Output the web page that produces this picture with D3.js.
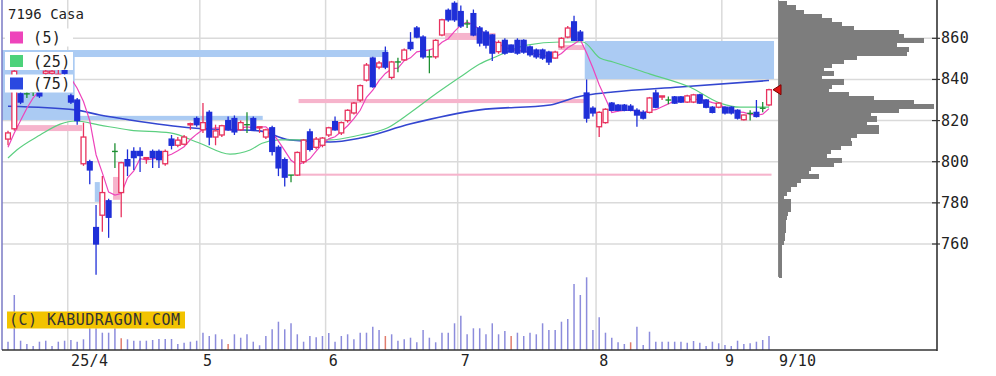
<!DOCTYPE html>
<html><head><meta charset="utf-8">
<script src="https://cdn.jsdelivr.net/npm/d3@7"></script>
<style>body{margin:0;background:#fff}svg{display:block}</style>
</head><body><svg id="c" width="996" height="376"></svg>
<script>
const title = "7196 Casa";
const opens = [811,816,833,833,834,834,843,843,842,845,
832,830,799,800,768,774,781,805,785,801,
805,805,801.7,805,805,799,811,808,808.5,818,
821,815.5,824,812,813,820,821,815.5,818,821,
816.5,812,816.5,807,801,793.5,793.5,800,814.5,807,
808,813,819.5,814,820,823.7,830,839.7,850.4,846,
853,841,848.5,849.5,858,865,860.6,851,851,861.6,
873.6,877,873,867,872,865,863,861.6,853.5,859,
856.7,859,859,855.8,854.3,854.3,853.3,850.4,855.8,860.6,
868,863,833.4,826,817,819,828.5,827.5,827.5,827,
825,824,824,833.4,831.5,830,831.5,831.5,829,829,
832.5,830,826.5,826.5,826.5,826.5,825,820.4,823.5,824,
826,827.6];
const highs = [815,846,834,835,836,835,845,845,845,846,
833,831,819,801,779,793,782,809,800,806,
807,807,802,806,806,806,813,812,813,819,
822,828.5,825,818,818,822,822.5,820,824,822,
817,816,817.5,808,802,793.5,805,811,816,812,
812,817,822,819.5,825.5,829,837.5,848,851,849,
856,849,850.5,855,863,866,861.5,854.5,859.5,869.5,
874.5,878,876,869,874,866,864,862,859,860,
857,860,859.5,856.5,855,855,854,854,860.5,866,
871,864,840,827,824.5,826,829,828,828,828,
826,825,831.5,835,832,831.7,832,832,832.5,833,
833,830.5,827,829,827,827,825.5,823,825,830,
829,835.5];
const lows = [808,815,828,831,832,831,842,842,842,842,
828,818,798,789,745,766,763,797,773,793,
796,795,799,797,797,798,806,807,808,815.5,
817,814,808,808,812,815,813,815,814,815,
814,811,803,793,788,790,793,799,805,806,
807,812,815,813,819,823,829,839,836,845,
845,840,843.5,849,854,860,850,843,850,861,
868,868,865,865,861,856,855,849,852.5,852,
853,852,852.5,851,850,849.5,847,850,855,860,
858.7,858.7,819,822,812,818.5,824.5,824.5,824.5,824.5,
817,820.5,823.5,826,830,828,828,828.5,828.5,828.5,
828,826,823.5,826,823,823,820.5,820,820,821.5,
824,827];
const closes = [814,844,829,833,834,832,844,844,842.5,843,
829,820,812,796,760,785,773,805,799.5,798,
802,803,802,802,801,805,808,810.5,812,818.5,
818,819,812,815,817.5,815.5,814.5,819,818,815.5,
817,815.5,805,797,792.5,793.5,804.5,810.5,806,811,
811.5,816.5,815.5,819,825,828.5,837,847,836.5,848,
846,848.5,848.5,854.3,855,860.6,851,851,859,869,
869,869,866,867,861.6,857.7,856.7,852.8,858,852.8,
853.3,852.8,853.3,852,851,850.4,848.5,853.3,860,865,
859,859,821.2,823.7,824,825.5,825,825,825,825,
822.7,821.2,831,826.5,832,830,828.5,829,832,832.5,
828.5,826.5,824,828.5,823.7,823.7,821.2,822.7,823.5,822,
826,835];
const volumes = [8.3,55,9.3,6,4,8.3,9.3,4,8.3,9.3,
10,8.3,10.7,21.7,21.7,17.3,17.3,21.7,11.7,10.7,
9.3,9.3,9.3,10,11,11,11,6,7.3,8.3,
9.3,17.3,14,15.7,10.7,6,15.7,12.3,15.7,8.3,
4.7,14,20.7,28.3,20.7,26.7,15.7,8.3,14,12.7,
14,17,8.3,14,15.7,10.7,17.3,17.3,23.3,20,
14,15.7,9.3,10.7,12.3,7.7,20,12.3,7.7,17.3,
17.3,26.7,34.3,15.7,21.7,21.7,15.7,26.7,15.7,19,
14,17.3,14,17.3,15.7,26.7,20,20,28.3,31,
66,55,72.7,20,32.7,17.3,12.3,7.7,6,7.7,
23.3,5,18.3,8.3,8.3,8.3,8.3,8.3,7.3,9,
7.3,4,8.3,6.7,5,4,9.3,6,6.7,8.3,
10,14];
const redVolumeIdx = [18,35,60,80,99];
const ma5 = [807,814,820,826,831,834.4,834.4,837.4,839.3,841.1,
840.5,835.7,829.3,820,803.4,794.6,785.2,783.8,784.5,792.1,
795.5,801.5,800.9,801.4,802,802.6,803.6,805.3,807.3,810.8,
813.4,815.6,815.9,816.5,816.3,815.8,814.9,816.3,816.9,816.5,
816.8,817,814.2,810,805.4,800.7,798.5,799.6,801.4,805.1,
808.7,811.1,812.1,814.7,817.5,820.9,825,831.3,834.8,839.4,
842.9,845.2,845.5,849.1,850.5,853.4,853.9,854.4,855.3,858.1,
859.8,863.4,866.4,868,866.5,864.3,861.8,859.2,857.4,855.6,
854.7,853.9,854,852.8,852.5,851.9,851,851,852.6,855.4,
857.2,859.3,852.8,845.6,837.4,830.7,823.9,824.6,824.9,825.1,
824.5,823.8,825,825.3,826.7,828.1,829.6,829.2,830.3,830.4,
830.1,829.7,828.7,828,826.2,825.3,824.2,824,823,822.6,
823.1,825.8];
const ma25 = [[0,801.8],[1.4,805.7],[5.1,813],[8.3,818.3],[10.7,819.8],[14.6,817.8],[19.4,815.4],
[25.8,814],[30.5,809],[35.3,803.7],[38.5,805.7],[40.4,809],[43.2,810.6],[51.2,810.6],[56,813],
[60.3,816.4],[63.9,823.7],[68.2,833.4],[71.9,841.2],[75,847.5],[77.1,850.4],[82.5,856.7],
[87.8,858.2],[91.4,858.2],[94.1,850.4],[96.2,848.5],[102.1,842.6],[108.4,836.3],[113.2,828.5],
[116.4,826.5],[121,826.5]];
const ma75 = [[0,827],[10.7,825.2],[14.6,822.7],[19.4,820.3],[29.4,816.4],[40,815],[44.8,810.6],
[51.2,809.6],[56,811.5],[63.9,818.3],[75,825.2],[86.2,827.6],[90.5,831.5],[92.1,832.4],
[96.2,833.9],[106.8,836.3],[121,839.5]];
// gap windows: [fromIdx, toIdx, lowPrice, highPrice, kind]
const windows = [[-1.3,10.6,820.3,853.4,"down"],[-1.3,60.4,850.9,854.3,"down"],[10.6,40.5,820.3,822.3,"down"],
[1.1,11.8,814.9,817.8,"up"],[13.8,14.6,780.5,790.1,"down"],[16.7,17.8,781.5,792.6,"up"],
[46.2,121.4,793.2,794.2,"up"],[46.2,91.6,828.5,830.5,"up"],[69.5,77.5,859.2,862.6,"up"],
[87.5,91.6,854.3,856.7,"up"],[91.7,121.8,840.2,858.7,"down"]];
// price-volume profile: [bin centre price, amount]
const profile = [[877,8],[875,17],[873,25],[871,43],[869,53],[867,63],[865,75],[863,120],[861,125],[859,145],
[857,118],[855,130],[853,128],[851,78],[849,65],[847,53],[845,45],[843,55],[841,43],[839,65],
[837,53],[835,50],[833,70],[831,95],[829,135],[827,155],[825,120],[823,92],[821,98],[819,88],
[817,100],[815,100],[813,78],[811,72],[809,73],[807,62],[805,52],[803,48],[801,63],[799,55],
[797,32],[795,30],[793,40],[791,22],[789,18],[787,12],[785,8],[783,5],[781,12],[779,12],
[777,12],[775,9],[773,8],[771,7],[769,7],[767,7],[765,6],[763,6],[761,5],[759,3.5],
[757,3.5],[755,3.5],[753,3.5],[751,3.5],[749,3.5],[747,3.5],[745,3.5]];
const yTicks = [760,780,800,820,840,860];
const monthIdx = [10,31,51,72,94,114];
const dateLabels = ["25/4","5","6","7","8","9","9/10"];
const dateLabelIdx = [10,31,51,72,94,114,122.6];
const maNames = ["(5)","(25)","(75)"];

const C = {up:"#e8325e", down:"#1f2fd8", doji:"#1d8f32", ma5:"#ee44bb", ma25:"#5ccf80", ma75:"#3346d0",
  winDown:"#abcbf3", winUp:"#f6b4cc", grid:"#dadada", vol:"#8c8cdc", volRed:"#e07c6c", prof:"#7d7d7d"};

const svg = d3.select("#c");
const L = 2, R = 937, B = 350;
const x = d3.scaleLinear().domain([0,121]).range([8,769]);
const step = x(1)-x(0);
const y = d3.scaleLinear().domain([760,860]).range([244,38.3]);
const yv = d3.scaleLinear().domain([0,100]).range([B,B-100]);
const xp = d3.scaleLinear().domain([0,100]).range([778.5,878.5]);

svg.append("rect").attr("width",996).attr("height",376).attr("fill","#fff");
svg.append("defs").append("clipPath").attr("id","pc").append("rect").attr("x",L).attr("y",0).attr("width",R-L).attr("height",B);

const g = svg.append("g").attr("clip-path","url(#pc)");
// grid
g.selectAll(".hg").data(yTicks).join("line").attr("x1",L).attr("x2",R)
 .attr("y1",d=>y(d)).attr("y2",d=>y(d)).attr("stroke",C.grid).attr("stroke-width",1.5);
g.selectAll(".vg").data(monthIdx).join("line").attr("x1",d=>x(d)-step/2).attr("x2",d=>x(d)-step/2)
 .attr("y1",0).attr("y2",B).attr("stroke",C.grid).attr("stroke-width",1.5);
// windows
g.selectAll(".win").data(windows).join("rect")
 .attr("x",d=>x(d[0])).attr("width",d=>x(d[1])-x(d[0]))
 .attr("y",d=>y(d[3])).attr("height",d=>y(d[2])-y(d[3]))
 .attr("fill",d=>d[4]==="down"?C.winDown:C.winUp);
// profile
g.append("g").attr("shape-rendering","crispEdges").selectAll(".pf").data(profile).join("rect")
 .attr("x",xp(0)).attr("width",d=>xp(d[1])-xp(0))
 .attr("y",d=>y(d[0]+1)).attr("height",d=>y(d[0]-1)-y(d[0]+1)+1)
 .attr("fill",C.prof);
g.append("line").attr("x1",xp(0)).attr("x2",xp(0)).attr("y1",y(878.5)).attr("y2",y(744)).attr("stroke","#888").attr("stroke-width",1);
// volume
g.selectAll(".vb").data(volumes).join("line")
 .attr("x1",(d,i)=>x(i)).attr("x2",(d,i)=>x(i)).attr("y1",yv(0)).attr("y2",d=>yv(d))
 .attr("stroke",(d,i)=>redVolumeIdx.includes(i)?C.volRed:C.vol).attr("stroke-width",1.5);
// moving averages
const lineIdx = d3.line().x((d,i)=>x(i)).y(d=>y(d));
const linePts = d3.line().x(d=>x(d[0])).y(d=>y(d[1])).curve(d3.curveMonotoneX);
g.append("path").attr("d",linePts(ma75)).attr("fill","none").attr("stroke",C.ma75).attr("stroke-width",1.6);
g.append("path").attr("d",linePts(ma25)).attr("fill","none").attr("stroke",C.ma25).attr("stroke-width",1.2);
g.append("path").attr("d",lineIdx(ma5)).attr("fill","none").attr("stroke",C.ma5).attr("stroke-width",1.2);
// candles
const cd = opens.map((o,i)=>({i,o,h:highs[i],l:lows[i],c:closes[i]}));
const col = d=> d.c>d.o?C.up:(d.c<d.o?C.down:C.doji);
const cg = g.append("g");
cg.selectAll(".wk").data(cd).join("line").attr("x1",d=>x(d.i)).attr("x2",d=>x(d.i))
 .attr("y1",d=>y(d.h)).attr("y2",d=>y(d.l)).attr("stroke",col).attr("stroke-width",1.3);
const bw = 4.8;
cg.selectAll(".bd").data(cd.filter(d=>d.c!==d.o)).join("rect")
 .attr("x",d=>x(d.i)-bw/2).attr("width",bw)
 .attr("y",d=>y(Math.max(d.o,d.c))).attr("height",d=>Math.max(1.2,Math.abs(y(d.o)-y(d.c))))
 .attr("fill",d=>d.c>d.o?"#fff":C.down).attr("stroke",col).attr("stroke-width",1.3);
cg.selectAll(".dj").data(cd.filter(d=>d.c===d.o)).join("line")
 .attr("x1",d=>x(d.i)-bw/2-0.5).attr("x2",d=>x(d.i)+bw/2+0.5).attr("y1",d=>y(d.o)).attr("y2",d=>y(d.o))
 .attr("stroke",C.doji).attr("stroke-width",1.4);

// legend
svg.append("text").attr("x",8).attr("y",19).text(title)
 .attr("font-family","DejaVu Sans Mono, monospace").attr("font-size",14).attr("fill","#222");
const legCols = [C.ma5,"#4cd27a","#2a48e0"];
const legY = [37.5,61,83.5];
maNames.forEach((n,k)=>{
  svg.append("rect").attr("x",5).attr("y",legY[k]-9).attr("width",68).attr("height",18).attr("fill","#fff");
  svg.append("rect").attr("x",10).attr("y",legY[k]-6).attr("width",13).attr("height",12).attr("fill",legCols[k]);
  svg.append("text").attr("x",33).attr("y",legY[k]+5.5).text(n)
   .attr("font-family","DejaVu Sans Mono, monospace").attr("font-size",15).attr("letter-spacing",0.4).attr("fill","#222");
});
// watermark
svg.append("rect").attr("x",7).attr("y",311.5).attr("width",178).attr("height",17).attr("fill","#f2c300");
svg.append("text").attr("x",9).attr("y",325).text("(C) KABUDRAGON.COM")
 .attr("font-family","DejaVu Sans Mono, monospace").attr("font-size",15).attr("letter-spacing",0.5).attr("fill","#333");

// axes
svg.append("line").attr("x1",L).attr("x2",L).attr("y1",0).attr("y2",B).attr("stroke","#7a7ac4").attr("stroke-width",1.5);
svg.append("line").attr("x1",R).attr("x2",R).attr("y1",0).attr("y2",B+1).attr("stroke","#333").attr("stroke-width",1.6);
svg.append("line").attr("x1",L).attr("x2",R).attr("y1",B).attr("y2",B).attr("stroke","#333").attr("stroke-width",1.6);
svg.selectAll(".yt").data(yTicks).join("line").attr("x1",R-5).attr("x2",R+3).attr("y1",d=>y(d)).attr("y2",d=>y(d))
 .attr("stroke","#333").attr("stroke-width",1.2);
svg.selectAll(".yl").data(yTicks).join("text").attr("x",R+4).attr("y",d=>y(d)+5).text(d=>d)
 .attr("font-family","DejaVu Sans Mono, monospace").attr("font-size",15).attr("letter-spacing",0.3).attr("fill","#222");
svg.selectAll(".xl").data(dateLabels).join("text").attr("x",(d,i)=>x(dateLabelIdx[i])).attr("y",366).text(d=>d)
 .attr("font-family","DejaVu Sans Mono, monospace").attr("font-size",15).attr("letter-spacing",0.3).attr("fill","#222");
// last price marker
const lp = closes[closes.length-1];
svg.append("path").attr("d",`M${xp(0)-5.5},${y(lp)} L${xp(0)+2.5},${y(lp)-5} L${xp(0)+2.5},${y(lp)+5} Z`)
 .attr("fill","#e01414").attr("stroke","#7a0000").attr("stroke-width",1);
</script></body></html>
